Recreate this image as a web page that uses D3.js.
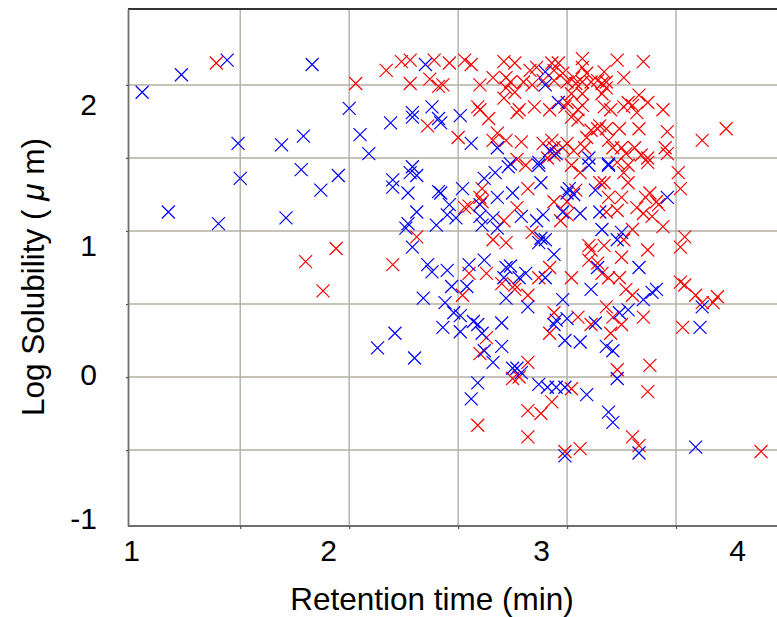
<!DOCTYPE html>
<html>
<head>
<meta charset="utf-8">
<script src="https://cdn.jsdelivr.net/npm/d3@7"></script>
<style>
  html, body { margin: 0; padding: 0; background: #ffffff; }
  svg { display: block; }
  text { font-family: "Liberation Sans", Arial, sans-serif; fill: #000; }
</style>
</head>
<body>
<script>
// ---------- data (x = retention time, y = log solubility) ----------
const xGridValues = [1.5, 2, 2.5, 3, 3.5];
const yGridValues = [-0.5, 0, 0.5, 1, 1.5, 2];
const xTickLabels = [1, 2, 3, 4];
const yTickLabels = [-1, 0, 1, 2];
const xTitle = "Retention time (min)";
const yTitleParts = ["Log Solubility ( ", "\u03bc", " m)"];

const blueSeries = [
  [1.05,1.95],[1.23,2.07],[1.44,2.17],[1.49,1.60],[1.50,1.36],[1.17,1.13],[1.40,1.05],
  [1.71,1.09],[1.69,1.59],[1.79,1.65],[1.78,1.42],[1.87,1.28],[1.95,1.38],[2.00,1.84],
  [2.05,1.66],[2.09,1.53],[1.83,2.14],[2.19,1.74],[2.29,1.81],[2.29,1.78],[2.38,1.85],
  [2.41,1.77],[2.35,2.14],[2.20,1.35],[2.20,1.30],[2.29,1.44],[2.28,1.40],[2.31,1.38],
  [2.27,1.26],[2.31,1.13],[2.27,1.05],[2.26,1.02],[2.40,1.04],[2.29,0.89],[2.36,0.77],
  [2.38,0.72],[2.34,0.54],[2.41,1.27],[2.13,0.20],[2.21,0.30],[2.30,0.13],
  [2.90,2.09],[2.90,2.00],[2.96,1.88],[2.51,1.79],[2.56,1.60],[2.68,1.57],[2.92,1.55],
  [2.95,1.53],[2.87,1.47],[2.74,1.46],[2.42,1.74],
  [3.10,1.50],[3.19,1.46],
  [2.67,1.40],[2.73,1.44],[2.87,1.45],[2.62,1.36],[2.88,1.33],[2.75,1.26],[2.68,1.23],
  [2.60,1.18],[2.52,1.29],[2.46,1.18],[2.45,1.11],[2.49,1.09],[2.42,1.26],[2.60,1.10],
  [2.66,1.09],[2.61,1.04],[2.68,1.02],[2.79,1.10],[2.86,1.07],[2.89,1.11],[2.98,1.13],
  [3.00,1.26],[2.88,0.95],[2.90,0.94],[2.87,0.92],[2.94,0.84],[2.45,0.73],[2.55,0.77],
  [2.62,0.80],[2.72,0.75],[2.74,0.76],[2.71,0.68],[2.81,0.71],[2.78,0.68],[2.90,0.68],
  [2.47,0.62],[2.54,0.62],
  [3.10,1.45],[3.19,1.45],[3.01,1.29],[3.03,1.25],[3.13,1.28],[3.46,1.23],[3.15,1.13],
  [3.06,1.12],[3.16,1.01],[3.25,0.99],[3.23,0.94],[3.14,0.75],[3.33,0.75],
  [2.44,0.51],[2.48,0.44],[2.51,0.42],[2.43,0.34],[2.51,0.31],[2.57,0.38],[2.59,0.36],
  [2.61,0.30],[2.62,0.18],[2.66,0.10],[2.70,0.21],[2.70,0.37],[2.59,-0.04],[2.56,-0.15],
  [2.75,0.06],[2.72,0.54],
  [2.82,0.48],[3.11,0.60],[3.35,0.53],[3.41,0.60],[3.39,0.58],[3.62,0.48],[3.61,0.34],
  [3.24,0.44],[3.28,0.46],[3.13,0.37],[3.00,0.40],[2.95,0.39],[2.94,0.36],[2.98,0.53],
  [2.99,0.25],[3.06,0.24],[3.18,0.21],[3.21,0.18],[2.77,0.06],[2.79,0.03],[2.87,-0.05],
  [2.91,-0.07],[2.95,-0.07],[2.99,-0.07],[3.09,-0.12],[3.23,-0.01],[3.19,-0.24],[3.21,-0.31],
  [2.99,-0.54],[3.33,-0.52],[3.59,-0.48]
];

const redSeries = [
  [1.39,2.15],[2.03,2.01],[2.17,2.10],[2.24,2.16],[2.28,2.17],[2.39,2.17],[2.28,2.01],
  [2.37,2.04],[2.41,1.99],[2.36,1.72],[1.94,0.88],[1.80,0.79],[1.88,0.59],[2.20,0.77],
  [2.31,0.96],
  [2.43,2.00],[2.46,2.15],[2.53,2.17],[2.56,2.14],[2.71,2.16],[2.76,2.15],[2.83,2.10],
  [2.86,2.12],[2.93,2.15],[2.96,2.15],[2.94,2.10],[2.98,2.08],[2.60,2.00],[2.66,2.05],
  [2.72,2.05],[2.72,1.98],[2.74,2.02],[2.80,2.02],[2.84,2.00],[2.89,2.03],[2.94,2.03],
  [2.71,1.91],[2.76,1.95],[2.78,1.83],[2.77,1.81],[2.85,1.85],[2.92,1.83],[2.99,1.85],
  [2.59,1.85],[2.64,1.77],[2.60,1.83],[2.68,1.67],[2.66,1.62],[2.72,1.62],[2.50,1.64],
  [2.79,1.61],[2.89,1.60],[2.93,1.62],[2.94,1.57],[2.98,1.57],[2.77,1.49],[2.91,1.50],
  [2.94,1.52],
  [3.07,2.18],[3.23,2.17],[3.35,2.16],[3.07,2.12],[3.03,2.05],[3.09,2.08],[3.17,2.09],
  [3.00,2.02],[3.04,2.01],[3.07,2.02],[3.11,2.02],[3.14,2.03],[3.16,2.01],[3.18,2.02],
  [3.18,1.98],[3.26,2.05],[3.02,1.94],[3.07,1.94],[3.00,1.88],[3.05,1.83],[3.07,1.86],
  [3.16,1.94],[3.17,1.85],[3.20,1.83],[3.26,1.85],[3.28,1.88],[3.30,1.86],[3.33,1.93],
  [3.37,1.88],[3.32,1.81],[3.44,1.83],[3.02,1.78],[3.05,1.76],[3.11,1.69],[3.14,1.70],
  [3.15,1.72],[3.18,1.70],[3.24,1.70],[3.33,1.70],[3.46,1.68],[3.09,1.64],[3.08,1.57],
  [3.19,1.62],[3.21,1.57],[3.25,1.57],[3.27,1.53],[3.31,1.57],[3.34,1.52],[3.37,1.50],
  [3.45,1.57],[3.46,1.53],[3.03,1.55],[3.23,1.47],[3.00,1.60],[3.73,1.70],[3.62,1.62],
  [2.81,1.45],[2.82,1.29],[2.61,1.29],[2.60,1.23],[2.61,1.20],[2.53,1.16],[2.55,1.17],
  [2.77,1.16],[2.71,1.07],[2.94,1.20],[2.97,1.07],[3.00,1.20],[2.66,0.94],[2.72,0.92],
  [2.84,0.99],[2.55,0.71],[2.63,0.71],[2.87,0.68],[2.92,0.75],[2.70,0.64],[2.76,0.63],
  [3.02,1.45],[3.06,1.40],[3.28,1.45],[3.37,1.47],[3.26,1.40],[3.51,1.40],[3.52,1.29],
  [3.15,1.33],[3.17,1.33],[3.04,1.28],[3.19,1.23],[3.25,1.23],[3.28,1.33],[3.32,1.16],
  [3.36,1.23],[3.38,1.26],[3.41,1.20],[3.42,1.18],[3.35,1.12],[3.39,1.10],[3.44,1.03],
  [3.18,1.13],[3.23,1.14],[3.00,1.11],[3.30,1.01],[3.26,0.94],[3.10,0.90],[3.11,0.87],
  [3.17,0.90],[3.25,0.82],[3.37,0.87],[3.52,0.89],[3.54,0.96],[3.10,0.80],[3.14,0.78],
  [3.16,0.71],[3.19,0.68],[3.24,0.68],[3.02,0.68],[3.52,0.65],
  [2.63,0.27],[2.60,0.16],[2.59,-0.33],[2.75,-0.01],[2.52,0.56],
  [2.76,0.60],[2.82,0.56],[3.27,0.60],[3.30,0.56],[3.54,0.63],[3.59,0.56],[3.62,0.51],
  [3.67,0.51],[3.69,0.55],[3.53,0.34],[3.35,0.41],[3.18,0.48],[3.21,0.41],[3.25,0.36],
  [3.20,0.30],[3.11,0.36],[3.05,0.41],[2.94,0.44],[2.92,0.30],[2.82,0.10],[2.78,0.00],
  [3.02,-0.08],[2.93,-0.17],[2.82,-0.23],[2.88,-0.25],[3.23,0.05],[3.38,0.08],[3.37,-0.10],
  [2.82,-0.41],[2.99,-0.51],[3.06,-0.49],[3.30,-0.41],[3.33,-0.47],[3.89,-0.51]
];

// ---------- layout ----------
const W = 777, H = 617;
const svg = d3.select("body").append("svg").attr("width", W).attr("height", H);

const x = d3.scaleLinear().domain([0.985, 4.0]).range([128, 785]);
const y = d3.scaleLinear().domain([-1.02, 2.52]).range([526, 9]);
// tick labels sit slightly off the grid in the original figure
const xLabelScale = d3.scaleLinear().domain([1, 2, 3, 4]).range([131, 328, 541, 737]);
const yLabelScale = d3.scaleLinear().domain([-1, 0, 1, 2]).range([519, 375, 246, 105]);

const gridColor = "#b3afa6";
const fontFam = "Liberation Sans, Arial, sans-serif";

// gridlines
svg.append("g").selectAll("line").data(xGridValues).join("line")
  .attr("x1", d => x(d)).attr("x2", d => x(d))
  .attr("y1", y.range()[1]).attr("y2", y.range()[0])
  .attr("stroke", gridColor).attr("stroke-width", 1.4);
svg.append("g").selectAll("line").data(yGridValues).join("line")
  .attr("x1", x.range()[0]).attr("x2", W)
  .attr("y1", d => y(d)).attr("y2", d => y(d))
  .attr("stroke", gridColor).attr("stroke-width", 1.4);

// top border
svg.append("line").attr("x1", x.range()[0]).attr("x2", W)
  .attr("y1", y.range()[1]).attr("y2", y.range()[1])
  .attr("stroke", "#333").attr("stroke-width", 1.8);

// bottom axis (ticks at grid)
const xAxis = svg.append("g").attr("transform", `translate(0,${y.range()[0]})`)
  .call(d3.axisBottom(x).tickValues(xGridValues).tickSize(3).tickSizeOuter(0).tickFormat(""));
xAxis.select(".domain").attr("stroke", "#6e6e6e").attr("stroke-width", 1.8)
  .attr("d", `M${x.range()[0]},0H${W}`);
xAxis.selectAll(".tick line").attr("stroke", "#555").attr("stroke-width", 1.2);

// left axis
const yAxis = svg.append("g").attr("transform", `translate(${x.range()[0]},0)`)
  .call(d3.axisLeft(y).tickValues(yGridValues).tickSize(2).tickSizeOuter(0).tickFormat(""));
yAxis.select(".domain").attr("stroke", "#6e6e6e").attr("stroke-width", 1.8);
yAxis.selectAll(".tick line").attr("stroke", "#555").attr("stroke-width", 1.2);

// tick labels (plain hyphen minus as in the original)
const xLab = svg.append("g").attr("transform", `translate(0,${y.range()[0]})`)
  .call(d3.axisBottom(xLabelScale).tickValues(xTickLabels).tickSize(0).tickPadding(14).tickFormat(d => String(d)));
xLab.select(".domain").remove();
xLab.selectAll("text").attr("font-size", 30).attr("font-family", fontFam).attr("fill", "#000");

const yLab = svg.append("g").attr("transform", `translate(${x.range()[0]},0)`)
  .call(d3.axisLeft(yLabelScale).tickValues(yTickLabels).tickSize(0).tickPadding(31).tickFormat(d => String(d)));
yLab.select(".domain").remove();
yLab.selectAll("text").attr("font-size", 30).attr("font-family", fontFam).attr("fill", "#000");

// axis titles
svg.append("text").attr("x", 432).attr("y", 610).attr("text-anchor", "middle")
  .attr("font-size", 31.5).text(xTitle);
const yt = svg.append("text").attr("transform", "translate(44,277) rotate(-90)")
  .attr("text-anchor", "middle").attr("font-size", 31.5);
yt.selectAll("tspan").data(yTitleParts).join("tspan")
  .attr("font-style", (d, i) => i === 1 ? "italic" : null)
  .text(d => d);

// markers
const s = 6.5;
const xMark = `M${-s},${-s}L${s},${s}M${-s},${s}L${s},${-s}`;
function drawSeries(data, color) {
  svg.append("g").selectAll("path").data(data).join("path")
    .attr("transform", d => `translate(${x(d[0])},${y(d[1])})`)
    .attr("d", xMark).attr("fill", "none")
    .attr("stroke", color).attr("stroke-width", 1.2);
}
drawSeries(redSeries, "#ff0000");
drawSeries(blueSeries, "#0000ff");
</script>
</body>
</html>
